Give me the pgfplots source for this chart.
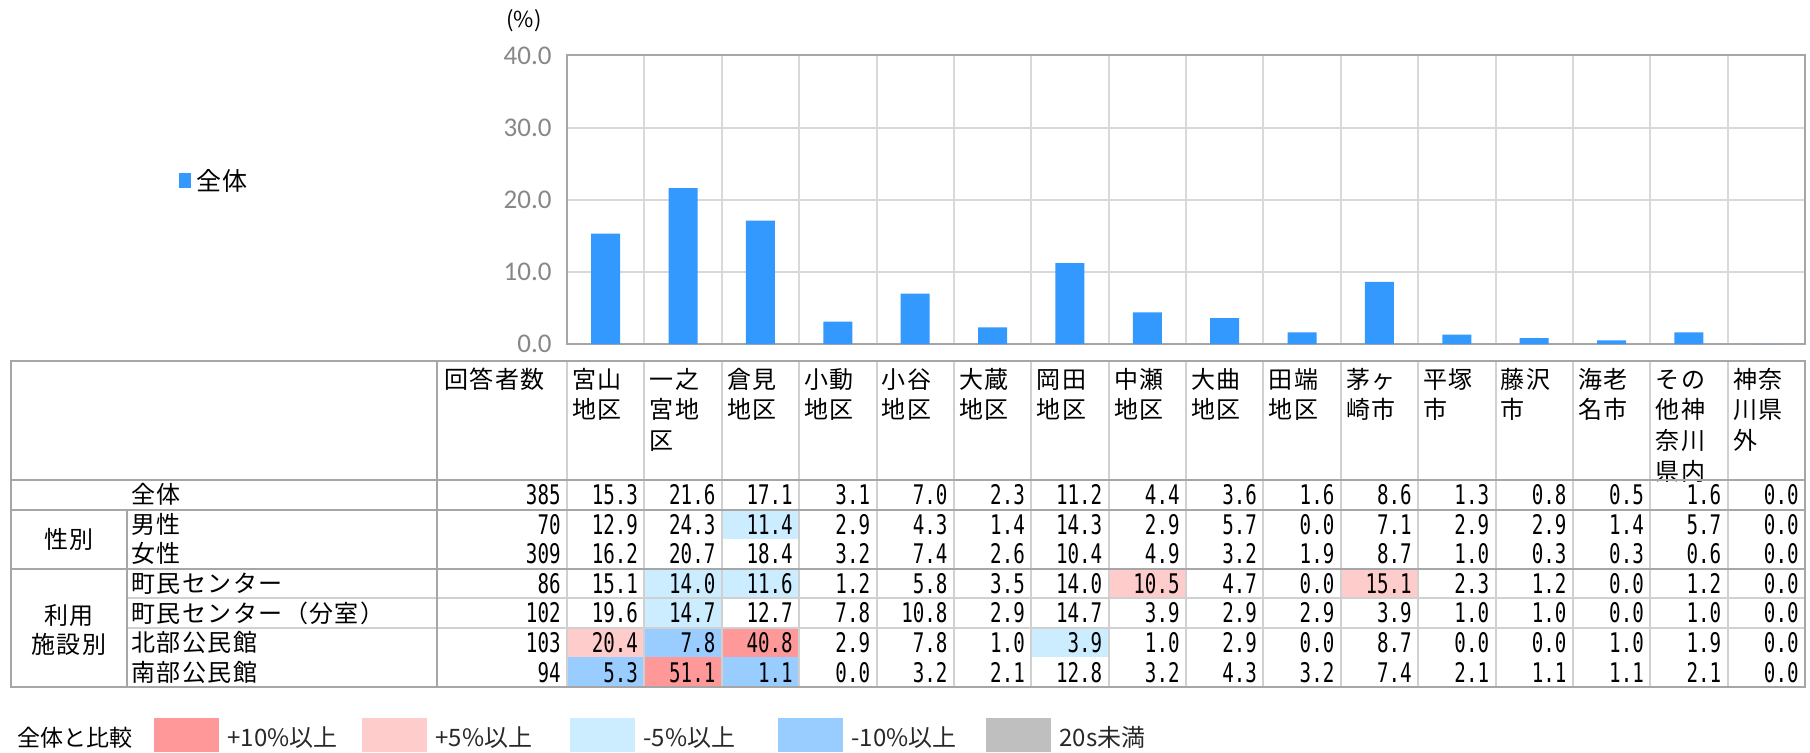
\documentclass[border=0pt]{standalone}
\usepackage{fontspec}
\setmainfont{Noto Sans CJK JP}
\newfontfamily\jpfont[LetterSpace=6]{Noto Sans CJK JP}
\newfontfamily\numfont[FakeStretch=0.71]{DejaVu Sans Mono}
\newfontfamily\tickfont{Carlito}
\usepackage{pgfplots}
\pgfplotsset{compat=1.18}

\definecolor{barblue}{RGB}{51,153,255}
\definecolor{cellpp}{RGB}{255,153,153}
\definecolor{cellp}{RGB}{255,204,204}
\definecolor{cellm}{RGB}{204,236,255}
\definecolor{cellmm}{RGB}{153,204,255}
\definecolor{cellgr}{RGB}{191,191,191}
\definecolor{framegray}{RGB}{166,166,166}
\definecolor{gridgray}{RGB}{217,217,217}
\definecolor{lightline}{RGB}{208,208,208}
\definecolor{ticktext}{RGB}{135,135,135}

% column / row geometry in px (0.5pt each, y downward)
\newcommand{\cx}{567}
\newcommand{\cw}{77.375}
\newcommand{\ry}{480}
\newcommand{\rh}{29.57}

\newcommand{\hdr}[3]{\node[anchor=base west, inner sep=0pt, font=\jpfont\fontsize{12}{12}\selectfont] at ({\cx+#1*\cw+5},{388+#2*30.8}) {#3};}
\newcommand{\cell}[3]{\fill[fill=#3] ({\cx+#1*\cw},{\ry+#2*\rh}) rectangle ({\cx+(#1+1)*\cw},{\ry+(#2+1)*\rh});}
\newcommand{\rowlabel}[2]{\node[anchor=base west, inner sep=0pt, font=\jpfont\fontsize{12}{12}\selectfont] at (131,{\ry+(#1+0.5)*\rh+9}) {#2};}
\newcommand{\rowvals}[3]{%
  \node[anchor=base east, inner sep=0pt, font=\numfont\fontsize{13.5}{13.5}\selectfont] at (561,{\ry+(#1+0.5)*\rh+9.8}) {#2};
  \foreach \v [count=\c from 1] in {#3} {
    \node[anchor=base east, inner sep=0pt, font=\numfont\fontsize{13.5}{13.5}\selectfont] at ({\cx+\c*\cw-6},{\ry+(#1+0.5)*\rh+9.8}) {\v};
  }%
}

\begin{document}
\begin{tikzpicture}
\path[use as bounding box] (0pt,0pt) rectangle (905pt,-376pt);

\begin{axis}[
  at={(283.5pt,-172pt)}, anchor=south west,
  scale only axis, width=619pt, height=144.3pt,
  xmin=-0.5, xmax=15.5, ymin=0, ymax=40,
  ytick={0,10,20,30,40},
  xtick={0.5,1.5,...,14.5}, xticklabel=\empty,
  major tick length=0pt,
  grid=major, grid style={draw=gridgray, line width=1pt},
  axis line style={draw=framegray, line width=1pt},
  yticklabel style={/pgf/number format/.cd, fixed, fixed zerofill, precision=1, assume math mode=true},
  ticklabel style={font=\tickfont\fontsize{13.5}{13.5}\selectfont, text=ticktext, inner sep=0pt},
  yticklabel shift=7.5pt,
  clip=false,
]
\addplot[ybar, bar width=14.5pt, fill=barblue, draw=none] coordinates {
(0,15.3) (1,21.6) (2,17.1) (3,3.1) (4,7.0) (5,2.3) (6,11.2) (7,4.4)
(8,3.6) (9,1.6) (10,8.6) (11,1.3) (12,0.8) (13,0.5) (14,1.6) (15,0.0)};
\end{axis}

\begin{scope}[x=0.5pt, y=-0.5pt]
% (%) label and chart legend
\node[anchor=center, inner sep=0pt, font=\fontsize{11}{11}\selectfont] at (524,21) {(\%)};
\fill[barblue] (179,173) rectangle (191,188);
\node[anchor=base west, inner sep=0pt, font=\jpfont\fontsize{12.5}{12.5}\selectfont] at (196,190) {全体};

% coloured cells
\cell{2}{1}{cellm}
\cell{1}{3}{cellm} \cell{2}{3}{cellm} \cell{7}{3}{cellp} \cell{10}{3}{cellp}
\cell{1}{4}{cellm}
\cell{0}{5}{cellp} \cell{1}{5}{cellmm} \cell{2}{5}{cellpp} \cell{6}{5}{cellm}
\cell{0}{6}{cellmm} \cell{1}{6}{cellpp} \cell{2}{6}{cellmm}

% header texts
\node[anchor=base west, inner sep=0pt, font=\jpfont\fontsize{12}{12}\selectfont] at (444,388) {回答者数};
\hdr{0}{0}{宮山}\hdr{0}{1}{地区}
\hdr{1}{0}{一之}\hdr{1}{1}{宮地}\hdr{1}{2}{区}
\hdr{2}{0}{倉見}\hdr{2}{1}{地区}
\hdr{3}{0}{小動}\hdr{3}{1}{地区}
\hdr{4}{0}{小谷}\hdr{4}{1}{地区}
\hdr{5}{0}{大蔵}\hdr{5}{1}{地区}
\hdr{6}{0}{岡田}\hdr{6}{1}{地区}
\hdr{7}{0}{中瀬}\hdr{7}{1}{地区}
\hdr{8}{0}{大曲}\hdr{8}{1}{地区}
\hdr{9}{0}{田端}\hdr{9}{1}{地区}
\hdr{10}{0}{茅ヶ}\hdr{10}{1}{崎市}
\hdr{11}{0}{平塚}\hdr{11}{1}{市}
\hdr{12}{0}{藤沢}\hdr{12}{1}{市}
\hdr{13}{0}{海老}\hdr{13}{1}{名市}
\hdr{14}{0}{その}\hdr{14}{1}{他神}\hdr{14}{2}{奈川}\hdr{14}{3}{県内}
\hdr{15}{0}{神奈}\hdr{15}{1}{川県}\hdr{15}{2}{外}

% row labels
\rowlabel{0}{全体}
\rowlabel{1}{男性}
\rowlabel{2}{女性}
\rowlabel{3}{町民センター}
\rowlabel{4}{町民センター（分室）}
\rowlabel{5}{北部公民館}
\rowlabel{6}{南部公民館}
\node[anchor=base, inner sep=0pt, font=\jpfont\fontsize{12}{12}\selectfont] at (69,548) {性別};
\node[anchor=base, inner sep=0pt, font=\jpfont\fontsize{12}{12}\selectfont] at (69,624) {利用};
\node[anchor=base, inner sep=0pt, font=\jpfont\fontsize{12}{12}\selectfont] at (69,653) {施設別};

% values
\rowvals{0}{385}{15.3,21.6,17.1,3.1,7.0,2.3,11.2,4.4,3.6,1.6,8.6,1.3,0.8,0.5,1.6,0.0}
\rowvals{1}{70}{12.9,24.3,11.4,2.9,4.3,1.4,14.3,2.9,5.7,0.0,7.1,2.9,2.9,1.4,5.7,0.0}
\rowvals{2}{309}{16.2,20.7,18.4,3.2,7.4,2.6,10.4,4.9,3.2,1.9,8.7,1.0,0.3,0.3,0.6,0.0}
\rowvals{3}{86}{15.1,14.0,11.6,1.2,5.8,3.5,14.0,10.5,4.7,0.0,15.1,2.3,1.2,0.0,1.2,0.0}
\rowvals{4}{102}{19.6,14.7,12.7,7.8,10.8,2.9,14.7,3.9,2.9,2.9,3.9,1.0,1.0,0.0,1.0,0.0}
\rowvals{5}{103}{20.4,7.8,40.8,2.9,7.8,1.0,3.9,1.0,2.9,0.0,8.7,0.0,0.0,1.0,1.9,0.0}
\rowvals{6}{94}{5.3,51.1,1.1,0.0,3.2,2.1,12.8,3.2,4.3,3.2,7.4,2.1,1.1,1.1,2.1,0.0}

% light lines
\foreach \k in {0,...,15} { \draw[draw=lightline, line width=1pt] ({\cx+\k*\cw},361) -- ({\cx+\k*\cw},687); }
\foreach \y in {1,3,4,5} { \draw[draw=lightline, line width=1pt] (127,{\ry+\y*\rh}) -- (1805,{\ry+\y*\rh}); }
% dark lines
\draw[draw=framegray, line width=1pt] (127,{\ry+\rh}) -- (127,687);
\draw[draw=framegray, line width=1pt] (437,361) -- (437,687);
\foreach \y in {0,1,3} { \draw[draw=framegray, line width=1pt] (11,{\ry+\y*\rh}) -- (1805,{\ry+\y*\rh}); }
\draw[draw=framegray, line width=1.2pt] (11,361) rectangle (1805,687);

% bottom legend
\node[anchor=base west, inner sep=0pt, font=\fontsize{11.5}{11.5}\selectfont] at (17,746) {全体と比較};
\foreach \k/\col/\lab in {0/cellpp/+10\%以上, 1/cellp/+5\%以上, 2/cellm/-5\%以上, 3/cellmm/-10\%以上, 4/cellgr/20s未満} {
  \fill[fill=\col] ({153.5+\k*208},718) rectangle ({219+\k*208},752);
  \node[anchor=base west, inner sep=0pt, font=\fontsize{12}{12}\selectfont, text={rgb,255:red,40;green,40;blue,40}] at ({227+\k*208},746) {\lab};
}
\end{scope}
\end{tikzpicture}
\end{document}
